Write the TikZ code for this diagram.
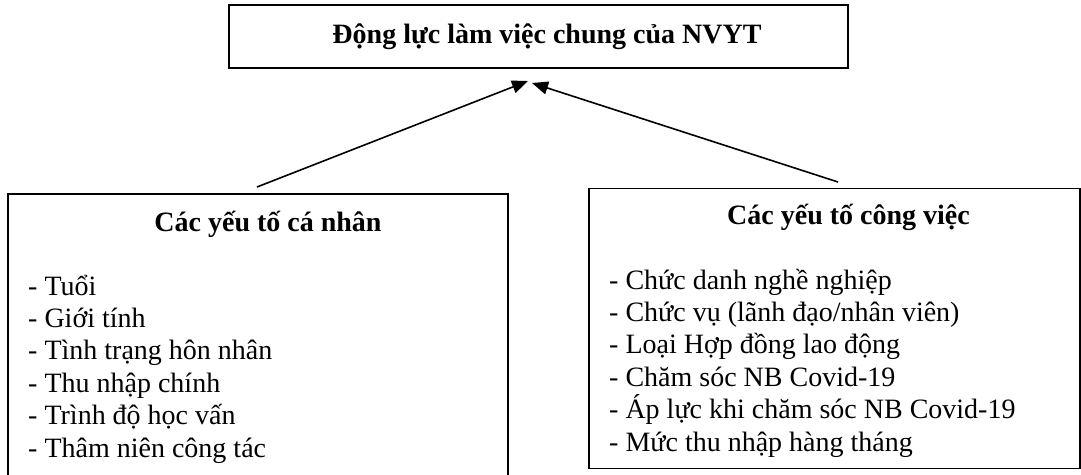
\documentclass[tikz,border=0pt]{standalone}
\usepackage{fontspec}
\setmainfont{Liberation Serif}
\usetikzlibrary{arrows.meta}
\usetikzlibrary{positioning}
\tikzstyle{khung}=[draw,line width=1.6pt,rectangle,inner sep=0pt]
\tikzstyle{tieude}=[font=\fontsize{28}{33}\selectfont\bfseries,inner sep=0pt,anchor=base]
\tikzstyle{muc}=[font=\fontsize{28}{33}\selectfont,inner sep=0pt,anchor=base west]
\tikzstyle{mui}=[-{Triangle[length=16pt,width=13pt]},line width=1.6pt]

\begin{document}
\begin{tikzpicture}[x=1pt,y=-1pt]
	\useasboundingbox (0,0) rectangle (1081,474);
	% khung tren
	\node[khung,minimum width=619pt,minimum height=63pt] (dongluc) at (538.5,36.5) {};
	\node[tieude] (tdl) at (547,43) {Động lực làm việc chung của NVYT};
	% yeu to ca nhan
	\node[khung,minimum width=500pt,minimum height=290pt] (canhan) at (258,339) {};
	\node[tieude] (tcn) at (268,231) {Các yếu tố cá nhân};
	\foreach \t [count=\i] in {{Tuổi},{Giới tính},{Tình trạng hôn nhân},{Thu nhập chính},{Trình độ học vấn},{Thâm niên công tác}}
	{
		\node[muc] (cn\i) at (28,{295+32.4*(\i-1)}) {- \t};
	}
	% yeu to cong viec
	\node[khung,minimum width=491pt,minimum height=280pt] (congviec) at (834.5,328.5) {};
	\node[tieude] (tcv) at (848.5,224) {Các yếu tố công việc};
	\foreach \t [count=\i] in {{Chức danh nghề nghiệp},{Chức vụ (lãnh đạo/nhân viên)},{Loại Hợp đồng lao động},{Chăm sóc NB Covid-19},{Áp lực khi chăm sóc NB Covid-19},{Mức thu nhập hàng tháng}}
	{
		\node[muc] (cv\i) at (609,{289+32.4*(\i-1)}) {- \t};
	}
	% mui ten
	\coordinate (goccn) at (257,187);
	\coordinate (dinhcn) at (528,81);
	\coordinate (goccv) at (838,182);
	\coordinate (dinhcv) at (532,83);
	\draw[mui] (goccn) -- (dinhcn);
	\draw[mui] (goccv) -- (dinhcv);
\end{tikzpicture}
\end{document}
